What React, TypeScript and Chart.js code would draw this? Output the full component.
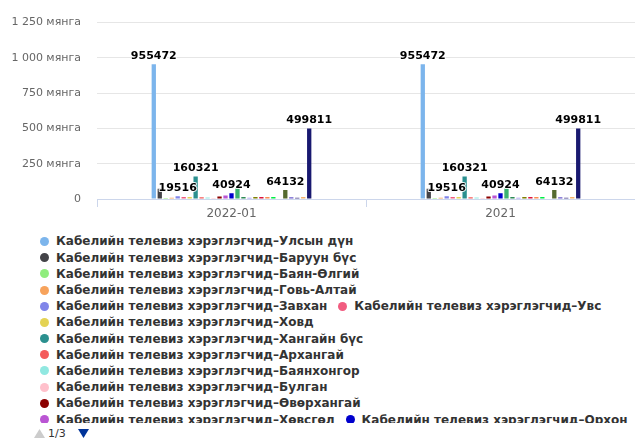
import React, { useEffect, useRef } from "react";
import { Chart, registerables } from "chart.js";

Chart.register(...registerables);

const CATEGORIES = ["2022-01", "2021"];

const SERIES_PREFIX = "Кабелийн телевиз хэрэглэгчид–";
const SERIES_NAMES = [
  "Улсын дүн",
  "Баруун бүс",
  "Баян-Өлгий",
  "Говь-Алтай",
  "Завхан",
  "Увс",
  "Ховд",
  "Хангайн бүс",
  "Архангай",
  "Баянхонгор",
  "Булган",
  "Өвөрхангай",
  "Хөвсгөл",
  "Орхон",
  "Төвийн бүс",
  "Говьсүмбэр",
  "Дархан-Уул",
  "Дорноговь",
  "Дундговь",
  "Өмнөговь",
  "Сэлэнгэ",
  "Төв",
  "Зүүн бүс",
  "Дорнод",
  "Сүхбаатар",
  "Хэнтий",
  "Улаанбаатар",
];

// values per series, for "2022-01"
const VALUES_2022_01 = [
  955472, 72000, 7000, 9000, 19516, 14000, 14000, 160321, 13000, 11000, 7000,
  18000, 25000, 40924, 80000, 15000, 9000, 15000, 15000, 15000, 15000, null,
  64132, 12000, 9000, 14000, 499811,
];
// values per series, for "2021"
const VALUES_2021 = [
  955472, 72000, 7000, 9000, 19516, 14000, 14000, 160321, 13000, 11000, 7000,
  18000, 25000, 40924, 80000, 15000, 9000, 15000, 15000, 15000, 15000, null,
  64132, 12000, 9000, 14000, 499811,
];

const SERIES_COLORS = [
  "#7cb5ec", "#434348", "#90ed7d", "#f7a35c", "#8085e9", "#f15c80", "#e4d354",
  "#2b908f", "#f45b5b", "#91e8e1", "#ffc0cb", "#8b0000", "#ba55d3", "#0000cd",
  "#3cb371", "#2e8b57", "#9b8bf0", "#808000", "#dc143c", "#fa8c50", "#00ee44",
  "#ff69b4", "#556b2f", "#6a5acd", "#483d8b", "#f4b26b", "#191970",
];

// series whose value labels are visible
const LABELED_SERIES = [0, 4, 7, 13, 22, 26];

const Y_MAX = 1250000;
const Y_STEP = 250000;
const Y_UNIT = "мянга";

function fmtThousands(n: number): string {
  return String(n).replace(/\B(?=(\d{3})+(?!\d))/g, " ");
}

const valueLabelPlugin = {
  id: "valueLabels",
  afterDatasetsDraw(chart: any) {
    const ctx = chart.ctx;
    ctx.save();
    ctx.font = 'bold 11px "DejaVu Sans"';
    ctx.textAlign = "center";
    ctx.textBaseline = "alphabetic";
    ctx.lineJoin = "round";
    LABELED_SERIES.forEach((di) => {
      const meta = chart.getDatasetMeta(di);
      meta.data.forEach((el: any, i: number) => {
        const v = chart.data.datasets[di].data[i];
        if (v == null) return;
        const { x, y } = el.getProps(["x", "y"], true);
        const t = String(v);
        ctx.strokeStyle = "rgba(255,255,255,0.9)";
        ctx.lineWidth = 2;
        ctx.strokeText(t, x, y - 5);
        ctx.fillStyle = "#000000";
        ctx.fillText(t, x, y - 5);
      });
    });
    ctx.restore();
  },
};

function ChartCanvas() {
  const ref = useRef<HTMLCanvasElement | null>(null);
  useEffect(() => {
    if (!ref.current) return;
    const datasets = SERIES_NAMES.map((name, i) => ({
      label: SERIES_PREFIX + name,
      data: [VALUES_2022_01[i], VALUES_2021[i]],
      backgroundColor: SERIES_COLORS[i],
      borderWidth: 0,
      categoryPercentage: 0.6,
      barPercentage: 0.72,
    }));
    const chart = new Chart(ref.current, {
      type: "bar",
      data: { labels: CATEGORIES, datasets },
      plugins: [valueLabelPlugin],
      options: {
        animation: false,
        responsive: false,
        devicePixelRatio: 1,
        layout: { padding: { top: 18, left: 0, right: 0, bottom: 0 } },
        plugins: {
          legend: { display: false },
          tooltip: { enabled: false },
        },
        scales: {
          x: {
            grid: {
              drawOnChartArea: false,
              color: "#ccd6eb",
              tickLength: 8,
            },
            border: { color: "#ccd6eb" },
            ticks: {
              color: "#666666",
              font: { family: "DejaVu Sans", size: 12 },
              padding: 0,
            },
            afterFit: (s: any) => {
              s.height = 26;
            },
          },
          y: {
            min: 0,
            max: Y_MAX,
            ticks: {
              stepSize: Y_STEP,
              color: "#666666",
              font: { family: "DejaVu Sans", size: 11 },
              padding: 16,
              callback: (v: any) =>
                Number(v) === 0 ? "0" : fmtThousands(Number(v) / 1000) + " " + Y_UNIT,
            },
            grid: { color: "#e6e6e6", drawTicks: false },
            border: { display: false },
            afterFit: (s: any) => {
              s.width = 97;
            },
          },
        },
      },
    } as any);
    return () => chart.destroy();
  }, []);
  return <canvas ref={ref} width={635} height={225} style={{ display: "block" }} />;
}

export default function App() {
  return (
    <div
      style={{
        position: "fixed",
        left: 0,
        top: 0,
        width: 635,
        height: 440,
        background: "#ffffff",
        overflow: "hidden",
        fontFamily: '"DejaVu Sans"',
      }}
    >
      <ChartCanvas />
      <div
        style={{
          position: "absolute",
          left: 40,
          top: 233.4,
          width: 595,
          height: 190,
          overflow: "hidden",
          display: "flex",
          flexWrap: "wrap",
          columnGap: 11,
          alignContent: "flex-start",
        }}
      >
        {SERIES_NAMES.map((n, i) => (
          <div
            key={i}
            style={{
              display: "flex",
              alignItems: "center",
              height: 16.2,
              whiteSpace: "nowrap",
              font: 'bold 12px "DejaVu Sans"',
              color: "#333333",
            }}
          >
            <span
              style={{
                width: 9,
                height: 9,
                borderRadius: "50%",
                background: SERIES_COLORS[i],
                marginRight: 7,
                flex: "none",
              }}
            />
            {SERIES_PREFIX + n}
          </div>
        ))}
      </div>
      <div
        style={{
          position: "absolute",
          left: 34,
          top: 426,
          height: 14,
          display: "flex",
          alignItems: "center",
          font: '11px "DejaVu Sans"',
          color: "#333333",
        }}
      >
        <svg width="11" height="9" style={{ display: "block" }}>
          <polygon points="0,9 5.5,0 11,9" fill="#cccccc" />
        </svg>
        <span style={{ marginLeft: 3, marginRight: 12 }}>1/3</span>
        <svg width="11" height="9" style={{ display: "block" }}>
          <polygon points="0,0 11,0 5.5,9" fill="#003399" />
        </svg>
      </div>
    </div>
  );
}
